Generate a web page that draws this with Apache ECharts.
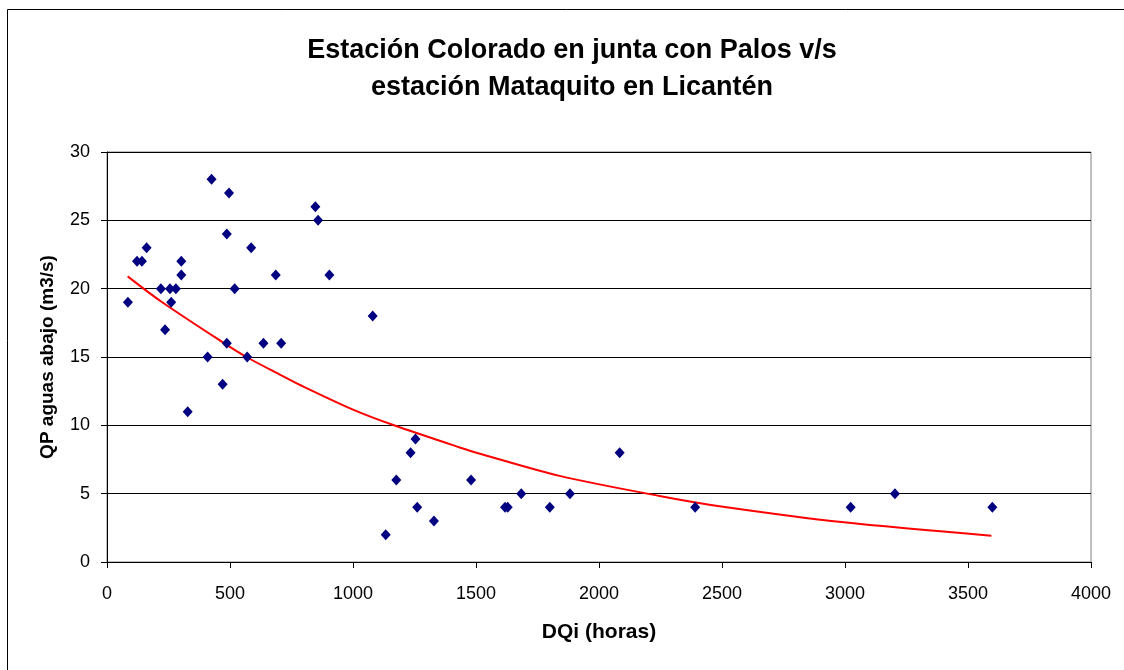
<!DOCTYPE html>
<html>
<head>
<meta charset="utf-8">
<script src="https://cdn.jsdelivr.net/npm/echarts@6/dist/echarts.min.js"></script>
<style>
  html, body { margin: 0; padding: 0; background: #fff; }
  #chart { width: 1124px; height: 670px; }
</style>
</head>
<body>
<div id="chart"></div>
<script>
// puntos medidos (DQi en horas, QP en m3/s)
const dqi = [85, 122, 142, 161, 219, 236, 256, 261, 280, 302, 302, 328, 409, 425, 470,
  487, 487, 496, 519, 570, 586, 636, 686, 708, 847, 858, 904, 1080, 1133, 1176,
  1234, 1254, 1261, 1329, 1480, 1618, 1629, 1684, 1800, 1882, 2084, 2391, 3023, 3203, 3599]
const qp = [19, 22, 22, 23, 20, 17, 20, 19, 20, 22, 21, 11, 15, 28, 13,
  24, 16, 27, 20, 15, 23, 16, 21, 16, 26, 25, 21, 18, 2, 6,
  8, 9, 4, 3, 6, 4, 4, 5, 4, 5, 8, 4, 4, 5, 4]

// línea de tendencia
const trendX = [84, 217, 460, 567, 704, 785, 1000, 1164, 1434, 1516, 1840, 2246, 2497, 2996, 3595]
const trendY = [20.9, 19.1, 16.2, 15.0, 13.7, 12.95, 11.15, 10.02, 8.38, 7.92, 6.3, 4.83, 4.06, 2.9, 1.92]

const titleLines = ['Estación Colorado en junta con Palos v/s', 'estación Mataquito en Licantén']
const yTicks = [0, 30, 5]
const xTicks = [0, 4000, 500]

const font = '"Liberation Sans", Arial, sans-serif'

const chart = echarts.init(document.getElementById('chart'))

chart.setOption({
  backgroundColor: '#fff',
  animation: false,
  title: {
    text: titleLines.join('\n'),
    left: 567,
    top: 27,
    textAlign: 'center',
    textStyle: {
      fontFamily: font,
      fontWeight: 'bold',
      fontSize: 27,
      lineHeight: 37,
      color: '#000'
    }
  },
  grid: { left: 107, top: 152, width: 984, height: 410, show: true, borderColor: '#808080', borderWidth: 1 },
  xAxis: {
    type: 'value',
    min: xTicks[0],
    max: xTicks[1],
    interval: xTicks[2],
    name: 'DQi (horas)',
    nameLocation: 'middle',
    nameGap: 60,
    nameTextStyle: { fontFamily: font, fontWeight: 'bold', fontSize: 21, color: '#000' },
    axisLine: { onZero: false, lineStyle: { color: '#000', width: 1 } },
    axisTick: { show: true, length: 6, lineStyle: { color: '#000' } },
    axisLabel: { margin: 23, fontFamily: font, fontSize: 18, color: '#000', formatter: v => String(v) },
    splitLine: { show: false }
  },
  yAxis: {
    type: 'value',
    min: yTicks[0],
    max: yTicks[1],
    interval: yTicks[2],
    name: 'QP aguas abajo (m3/s)',
    nameLocation: 'middle',
    nameGap: 50,
    nameTextStyle: { fontFamily: font, fontWeight: 'bold', fontSize: 19, color: '#000' },
    axisLine: { show: true, lineStyle: { color: '#000', width: 1 } },
    axisTick: { show: true, length: 6, lineStyle: { color: '#000' } },
    axisLabel: { margin: 17, fontFamily: font, fontSize: 18, color: '#000' },
    splitLine: { show: true, lineStyle: { color: '#000', width: 1 } }
  },
  graphic: [
    {
      type: 'rect',
      shape: { x: 7.5, y: 9.5, width: 1200, height: 800 },
      style: { fill: 'none', stroke: '#000', lineWidth: 1 },
      silent: true
    }
  ],
  series: [
    {
      name: 'QP',
      type: 'scatter',
      symbol: 'diamond',
      symbolSize: [10, 11],
      itemStyle: { color: '#000080', opacity: 1 },
      data: dqi.map((x, i) => [x, qp[i]]),
      z: 3
    },
    {
      name: 'Tendencia',
      type: 'line',
      smooth: 0.3,
      showSymbol: false,
      lineStyle: { color: '#ff0000', width: 2 },
      data: trendX.map((x, i) => [x, trendY[i]]),
      z: 2
    }
  ]
})
</script>
</body>
</html>
